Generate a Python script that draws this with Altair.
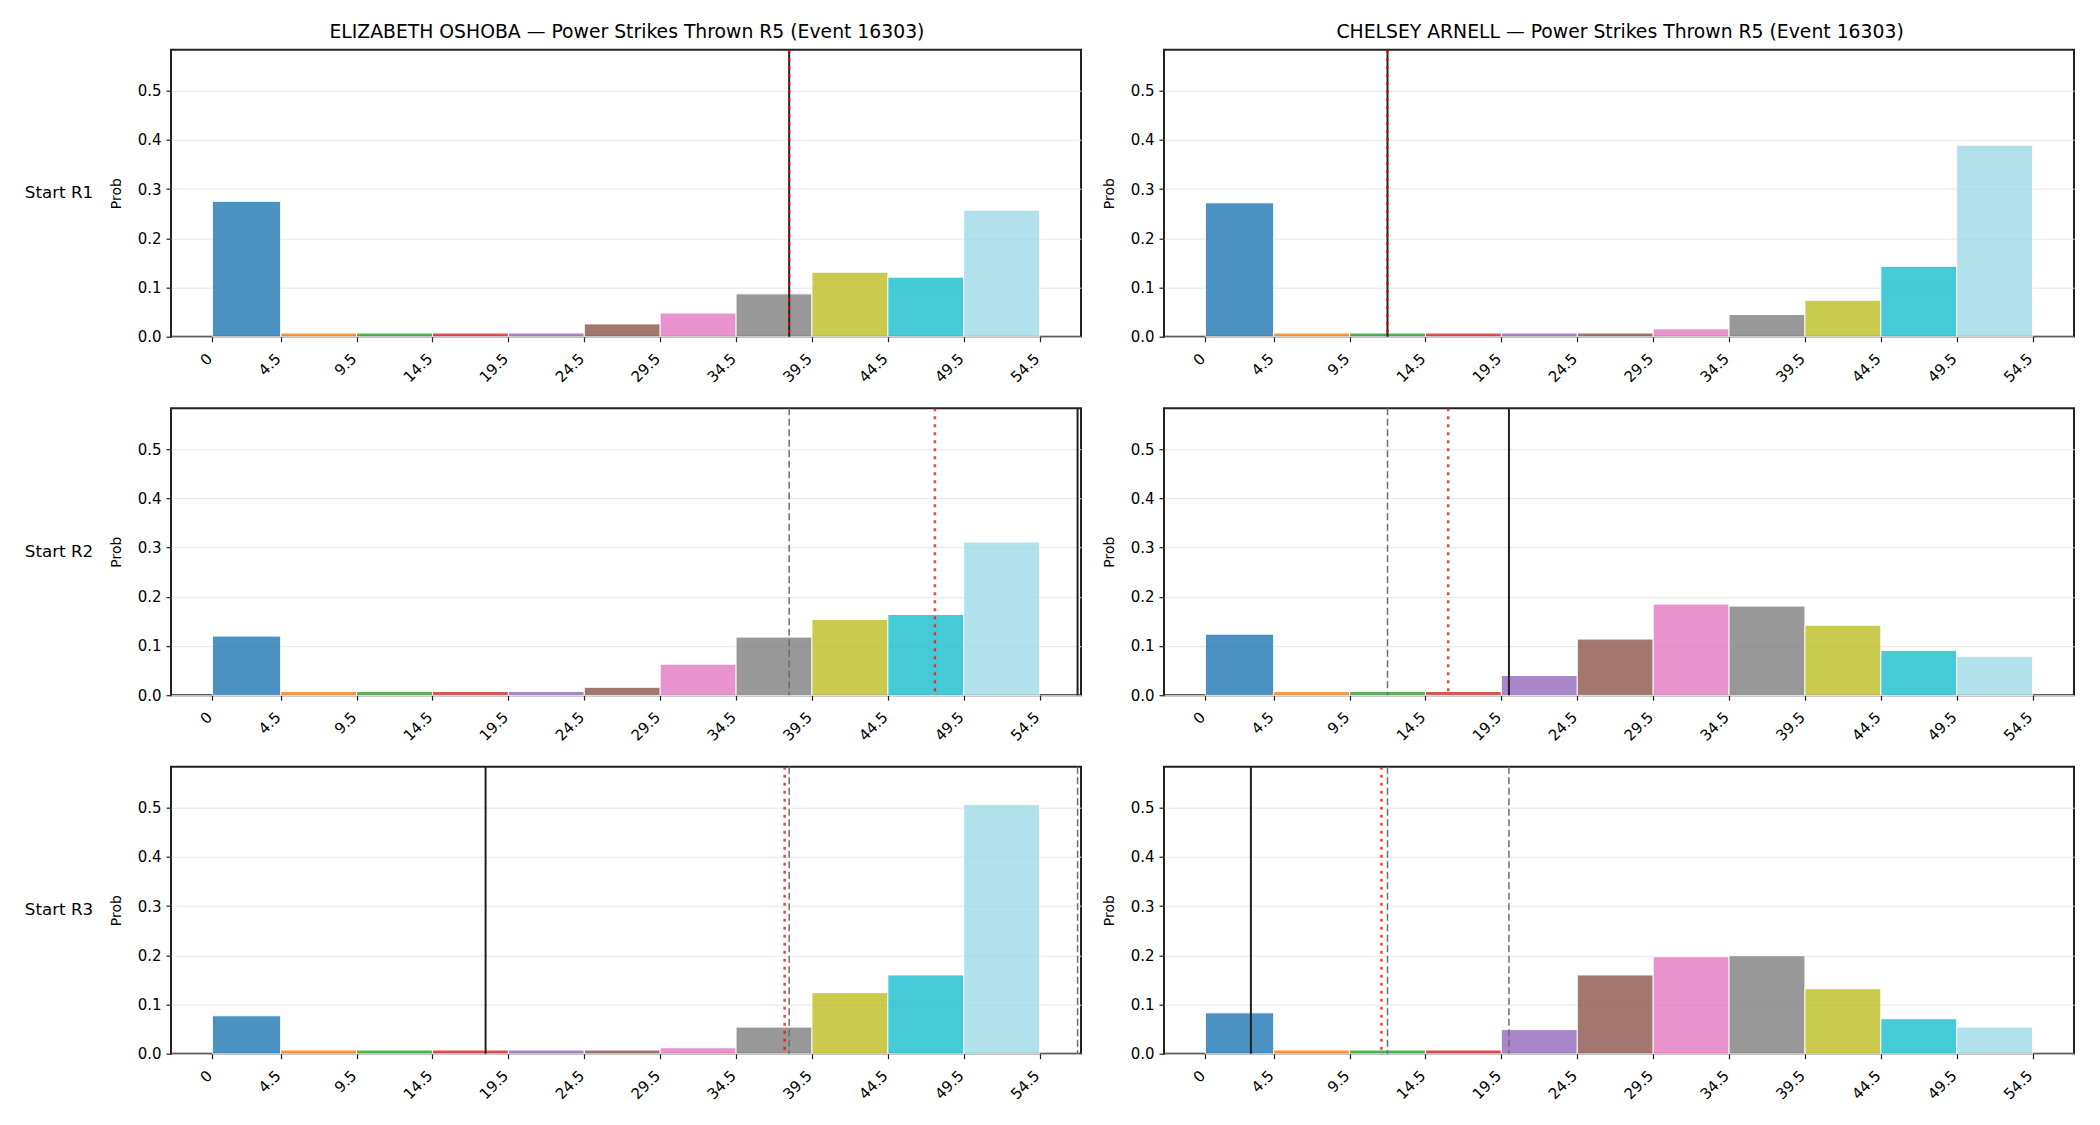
import altair as alt
import pandas as pd

FONT = "DejaVu Sans"

# ---- data ----
bin_lo = [0, 4.5, 9.5, 14.5, 19.5, 24.5, 29.5, 34.5, 39.5, 44.5, 49.5]
bin_hi = [4.5, 9.5, 14.5, 19.5, 24.5, 29.5, 34.5, 39.5, 44.5, 49.5, 54.5]
bin_names = ["b%02d" % i for i in range(11)]
tick_values = [0, 4.5, 9.5, 14.5, 19.5, 24.5, 29.5, 34.5, 39.5, 44.5, 49.5, 54.5]
bar_colors = ["#1f77b4", "#ff7f0e", "#2ca02c", "#d62728", "#9467bd", "#8c564b",
              "#e377c2", "#7f7f7f", "#bcbd22", "#17becf", "#9edae5"]

fighters = ["ELIZABETH OSHOBA", "CHELSEY ARNELL"]
row_labels = ["Start R1", "Start R2", "Start R3"]

eo_probs = [
    [0.275, 0.0075, 0.0075, 0.0075, 0.0075, 0.026, 0.048, 0.087, 0.131, 0.121, 0.257],
    [0.120, 0.0075, 0.0075, 0.0075, 0.0075, 0.016, 0.063, 0.118, 0.154, 0.164, 0.311],
    [0.077, 0.0075, 0.0075, 0.0075, 0.0075, 0.0075, 0.012, 0.054, 0.124, 0.160, 0.506],
]
ca_probs = [
    [0.272, 0.0075, 0.0075, 0.0075, 0.0075, 0.0075, 0.016, 0.045, 0.074, 0.143, 0.389],
    [0.124, 0.0075, 0.0075, 0.0075, 0.040, 0.114, 0.185, 0.181, 0.142, 0.091, 0.079],
    [0.083, 0.0075, 0.0075, 0.0075, 0.049, 0.160, 0.197, 0.199, 0.132, 0.071, 0.054],
]
eo_actual = [38, 57, 18]
eo_mean = [38, 47.6, 37.7]
eo_prev = [[], [38], [38, 57]]
ca_actual = [12, 20, 3]
ca_mean = [12, 16, 11.6]
ca_prev = [[], [12], [12, 20]]

W, H = 910, 287
xscale = alt.Scale(domain=[-2.725, 57.225], nice=False, zero=False)
yscale = alt.Scale(domain=[0, 0.583], nice=False)


def panel(probs, actual, mean, prev, row_label=None):
    df = pd.DataFrame({"lo": bin_lo, "hi": bin_hi, "prob": probs, "bin": bin_names})
    bars = alt.Chart(df).mark_rect(opacity=0.8, stroke="white", strokeWidth=1).encode(
        x=alt.X("lo:Q", scale=xscale,
                axis=alt.Axis(values=tick_values, format=".1~f", labelAngle=-45,
                              labelOffset=-8, labelPadding=9, grid=False, title=None)),
        x2="hi:Q",
        y=alt.Y("prob:Q", scale=yscale,
                axis=alt.Axis(values=[0, 0.1, 0.2, 0.3, 0.4, 0.5], format=".1f",
                              labelPadding=5, grid=True, title="Prob")),
        y2=alt.datum(0),
        color=alt.Color("bin:N", scale=alt.Scale(domain=bin_names, range=bar_colors),
                        legend=None),
    )
    layers = [bars]
    if prev:
        layers.append(alt.Chart(pd.DataFrame({"x": prev})).mark_rule(
            color="#6e6e6e", strokeDash=[7, 3.5], strokeWidth=1.5).encode(x="x:Q"))
    layers.append(alt.Chart(pd.DataFrame({"x": [actual]})).mark_rule(
        color="#222222", strokeWidth=2).encode(x="x:Q"))
    layers.append(alt.Chart(pd.DataFrame({"x": [mean]})).mark_rule(
        color="red", opacity=0.75, strokeDash=[3, 5], strokeWidth=2.5).encode(x="x:Q"))
    ch = alt.layer(*layers).properties(width=W, height=H)
    if row_label:
        ch = ch.properties(title=alt.TitleParams(
            text=row_label, orient="left", angle=0, align="left", baseline="middle",
            anchor="middle", fontSize=16.7, font=FONT, fontWeight="normal",
            color="black", offset=16))
    return ch


def title_params(name, dx):
    return alt.TitleParams(text=f"{name} — Power Strikes Thrown R5 (Event 16303)",
                           fontSize=18.8, font=FONT, fontWeight="normal",
                           color="black", anchor="middle", offset=5.5, dx=dx)


left_col = alt.vconcat(
    *[panel(eo_probs[i], eo_actual[i], eo_mean[i], eo_prev[i], row_labels[i]) for i in range(3)],
    spacing=18.5, title=title_params(fighters[0], 74))
right_col = alt.vconcat(
    *[panel(ca_probs[i], ca_actual[i], ca_mean[i], ca_prev[i]) for i in range(3)],
    spacing=18.5, title=title_params(fighters[1], 32))

chart = alt.hconcat(left_col, right_col, spacing=19).properties(
    padding={"left": 23, "top": 22.7, "right": 5, "bottom": 5},
    background="white",
).configure_view(
    stroke="#222222", strokeWidth=2
).configure_axis(
    labelFont=FONT, labelFontSize=15, labelColor="black",
    titleFont=FONT, titleFontSize=14, titleFontWeight="normal", titleColor="black",
    tickColor="#222222", tickSize=5, tickWidth=1.2, titlePadding=14,
    domain=False, gridColor="#e6e6e6", gridWidth=1,
)

chart.save("out.html", embed_options={"renderer": "svg", "actions": False})
